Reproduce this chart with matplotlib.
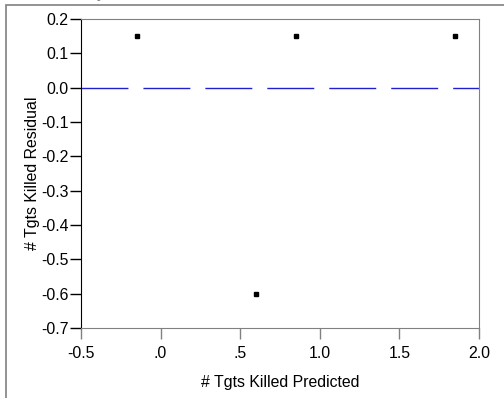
import matplotlib as mpl
mpl.use('Agg')
import matplotlib.pyplot as plt
from matplotlib.patches import Rectangle

predicted = [-0.15, 0.85, 1.85, 0.6]
residual = [0.15, 0.15, 0.15, -0.6]
xticks = [-0.5, 0.0, 0.5, 1.0, 1.5, 2.0]
xtick_labels = ["-0.5", ".0", ".5", "1.0", "1.5", "2.0"]
yticks = [0.2, 0.1, 0.0, -0.1, -0.2, -0.3, -0.4, -0.5, -0.6, -0.7]
ytick_labels = ["0.2", "0.1", "0.0", "-0.1", "-0.2", "-0.3", "-0.4", "-0.5", "-0.6", "-0.7"]

plt.rcParams['font.family'] = ['Liberation Sans', 'DejaVu Sans']

fig = plt.figure(figsize=(5.04, 3.98), dpi=100)
W, H = 504.0, 398.0

# outer report frame (cut off at right and bottom)
fig.patches.append(Rectangle((5.5 / W, -0.1), 1.2, (1 - 4.5 / H) + 0.1,
                             transform=fig.transFigure, fill=False,
                             edgecolor='#808080', linewidth=1.2))
fig.text(18 / W, 1.0 + 7 / H, "Residual by Predicted Plot", fontsize=12,
         color='#808080', va='center', ha='left')

ax = fig.add_axes([81 / W, (H - 328) / H, 398 / W, 309 / H])
ax.set_xlim(-0.5, 2.0)
ax.set_ylim(-0.7, 0.2)

# dashes in points: 47 px dash, 15 px gap
ax.axhline(0.0, color='#2020d0', linewidth=1.0, dashes=(33.8, 10.8))
ax.plot(predicted, residual, linestyle='none', marker='s', markersize=3.2,
        color='black')

for s in ['top', 'right', 'bottom']:
  ax.spines[s].set_color('#808080')
ax.spines['left'].set_color('black')

ax.set_xticks(xticks)
ax.set_xticklabels(xtick_labels)
ax.set_yticks(yticks)
ax.set_yticklabels(ytick_labels)
ax.tick_params(axis='both', direction='out', length=8, width=1.0,
               labelsize=11.4, colors='black', pad=1)
ax.tick_params(axis='x', color='#808080', pad=5)
ax.xaxis.get_major_ticks()[0].tick1line.set_color('black')

ax.set_xlabel("# Tgts Killed Predicted", fontsize=11.4, labelpad=10)
ax.set_ylabel("# Tgts Killed Residual", fontsize=11.4, labelpad=1)

plt.savefig("out.png", dpi=100)
